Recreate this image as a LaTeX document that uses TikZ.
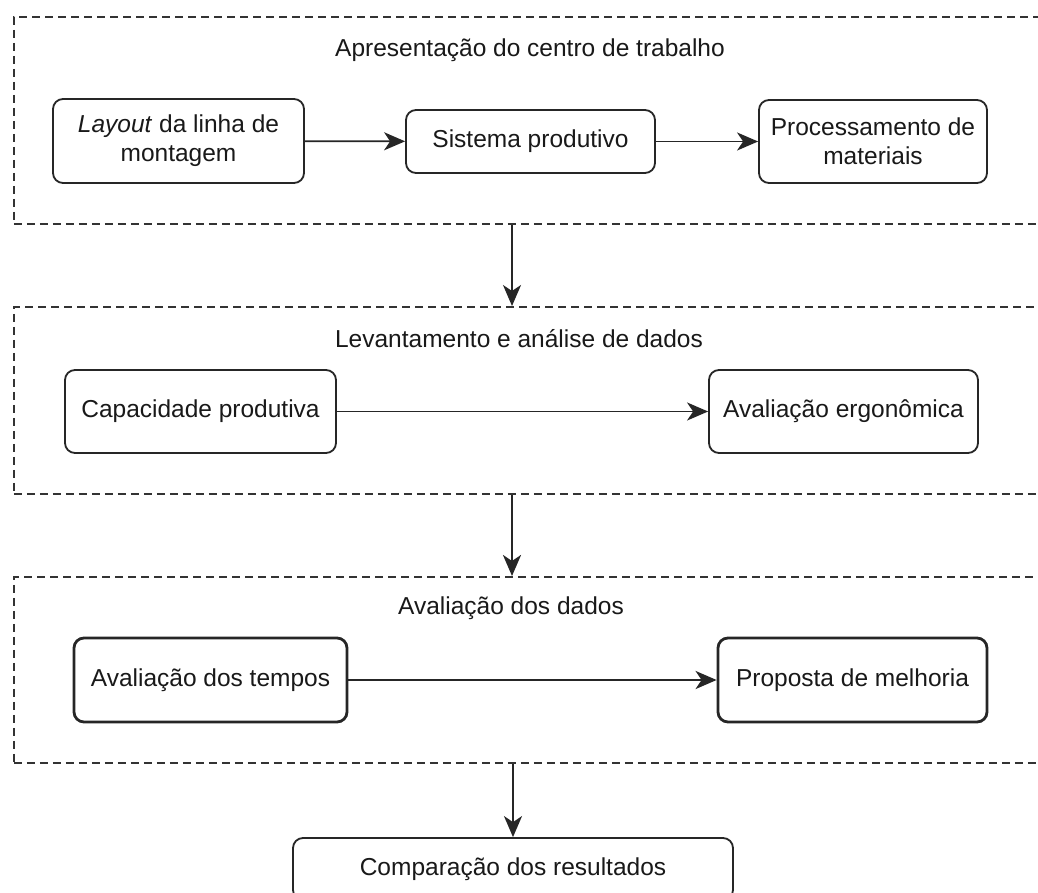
\documentclass[tikz,border=0pt]{standalone}
\usepackage{fontspec}
\setmainfont{Liberation Sans}
\usetikzlibrary{arrows.meta}
\begin{document}
\begin{tikzpicture}[x=1pt,y=-1pt,
  every node/.style={font=\fontsize{24.5}{29}\selectfont, text=black!90},
  stepbox/.style={draw=black!85, line width=1.8pt, rounded corners=10pt, inner sep=0pt, align=center},
  thickbox/.style={stepbox, line width=2.8pt},
  group/.style={draw=black!80, line width=1.9pt, dash pattern=on 8pt off 5pt, inner sep=0pt, anchor=north west},
  arr/.style={draw=black!85, line width=1.7pt, -{Stealth[length=21pt,width=18pt,inset=6pt]}},
  tharr/.style={arr, line width=2.7pt},
  title/.style={inner sep=0pt}
]
\clip (0,0) rectangle (1038,893);
\fill[white] (0,0) rectangle (1038,893);

% groups
\node[group, minimum width=1060pt, minimum height=207pt] (g1) at (13,16) {};
\node[group, minimum width=1060pt, minimum height=187pt] (g2) at (13,306) {};
\node[group, minimum width=1060pt, minimum height=186pt] (g3) at (13,576) {};

% titles
\node[title] (t1) at (530,50) {Apresentação do centro de trabalho};
\node[title] (t2) at (519,339) {Levantamento e análise de dados};
\node[title] (t3) at (511,608) {Avaliação dos dados};

% group 1 nodes
\node[stepbox, minimum width=251pt, minimum height=84pt] (layout) at (178.5,141) {\textit{Layout} da linha de\\montagem};
\node[stepbox, minimum width=249pt, minimum height=63pt] (sis) at (530.5,141.5) {Sistema produtivo};
\node[stepbox, minimum width=228pt, minimum height=83pt] (proc) at (873,141.5) {Processamento de\\materiais};

% group 2 nodes
\node[stepbox, minimum width=271pt, minimum height=83pt] (cap) at (200.5,411.5) {Capacidade produtiva};
\node[stepbox, minimum width=269pt, minimum height=83pt] (ergo) at (843.5,411.5) {Avaliação ergonômica};

% group 3 nodes
\node[thickbox, minimum width=273pt, minimum height=84pt] (tempos) at (210.5,680) {Avaliação dos tempos};
\node[thickbox, minimum width=269pt, minimum height=84pt] (prop) at (852.5,680) {Proposta de melhoria};

% bottom node
\node[stepbox, minimum width=440pt, minimum height=62pt] (comp) at (513,869) {Comparação dos resultados};

% horizontal connectors
\draw[arr] (layout) -- (sis);
\draw[arr] (sis) -- (proc);
\draw[arr] (cap) -- (ergo);
\draw[tharr] (tempos) -- (prop);

% vertical connectors
\coordinate (ax) at (512,0);
\coordinate (bx) at (513,0);
\draw[arr] (g1.south -| ax) -- (g2.north -| ax);
\draw[tharr] (g2.south -| ax) -- (g3.north -| ax);
\draw[arr] (g3.south -| bx) -- (comp.north -| bx);
\end{tikzpicture}
\end{document}
